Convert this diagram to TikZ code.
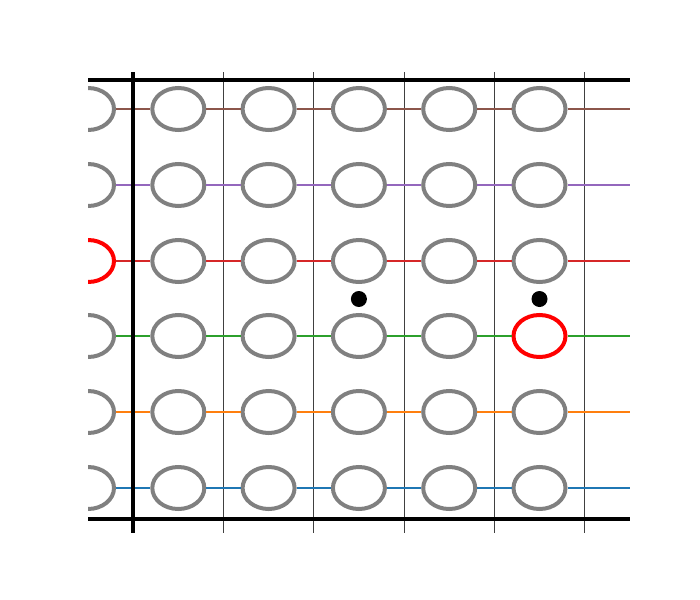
\documentclass[tikz,border=0pt]{standalone}
\usetikzlibrary{shapes.geometric}
\definecolor{tabblue}{HTML}{1F77B4}
\definecolor{taborange}{HTML}{FF7F0E}
\definecolor{tabgreen}{HTML}{2CA02C}
\definecolor{tabred}{HTML}{D62728}
\definecolor{tabpurple}{HTML}{9467BD}
\definecolor{tabbrown}{HTML}{8C564B}
\tikzset{
  site/.style={
    ellipse,
    draw=gray,
    line width=3pt,
    fill=white,
    inner sep=0pt,
    minimum width=39pt,
    minimum height=31.5pt,
  },
  hot/.style={site, draw=red},
  link/.style={line width=1.5pt},
  frame/.style={line width=3pt, black},
  grid/.style={line width=0.6pt, black!75},
  spot/.style={circle, fill=black, inner sep=0pt, minimum size=12pt},
}

\begin{document}
\begin{tikzpicture}[x=0.75pt, y=-0.75pt]
  \useasboundingbox (0,0) rectangle (700,600);

  \begin{scope}
    \clip (88,72) rectangle (630,533);
    \foreach \gx in {133.2,223.5,313.8,404.1,494.4,584.7}
      \draw[grid] (\gx,72) -- (\gx,533);

    % one chain of sites per row
    \foreach \y/\col [count=\r] in {109/tabbrown,185/tabpurple,261/tabred,336/tabgreen,412/taborange,488/tabblue} {
      \foreach \c in {0,...,5} {
        \def\kind{site}
        \ifnum\r\c=30\relax \def\kind{hot}\fi
        \ifnum\r\c=45\relax \def\kind{hot}\fi
        \node[\kind] (c-\r-\c) at (88+90.3*\c,\y) {};
      }
      \coordinate (end-\r) at (630,\y);
      \foreach \c [evaluate=\c as \n using int(\c+1)] in {0,...,4}
        \draw[link, \col] (c-\r-\c) -- (c-\r-\n);
      \draw[link, \col] (c-\r-5) -- (end-\r);
    }
  \end{scope}

  \draw[frame] (88,79.5) -- (630,79.5);
  \draw[frame] (88,518.5) -- (630,518.5);
  \draw[frame] (133.2,72) -- (133.2,533);

  \node[spot] (dot-a) at (358.9,299) {};
  \node[spot] (dot-b) at (539.5,299) {};
\end{tikzpicture}
\end{document}
